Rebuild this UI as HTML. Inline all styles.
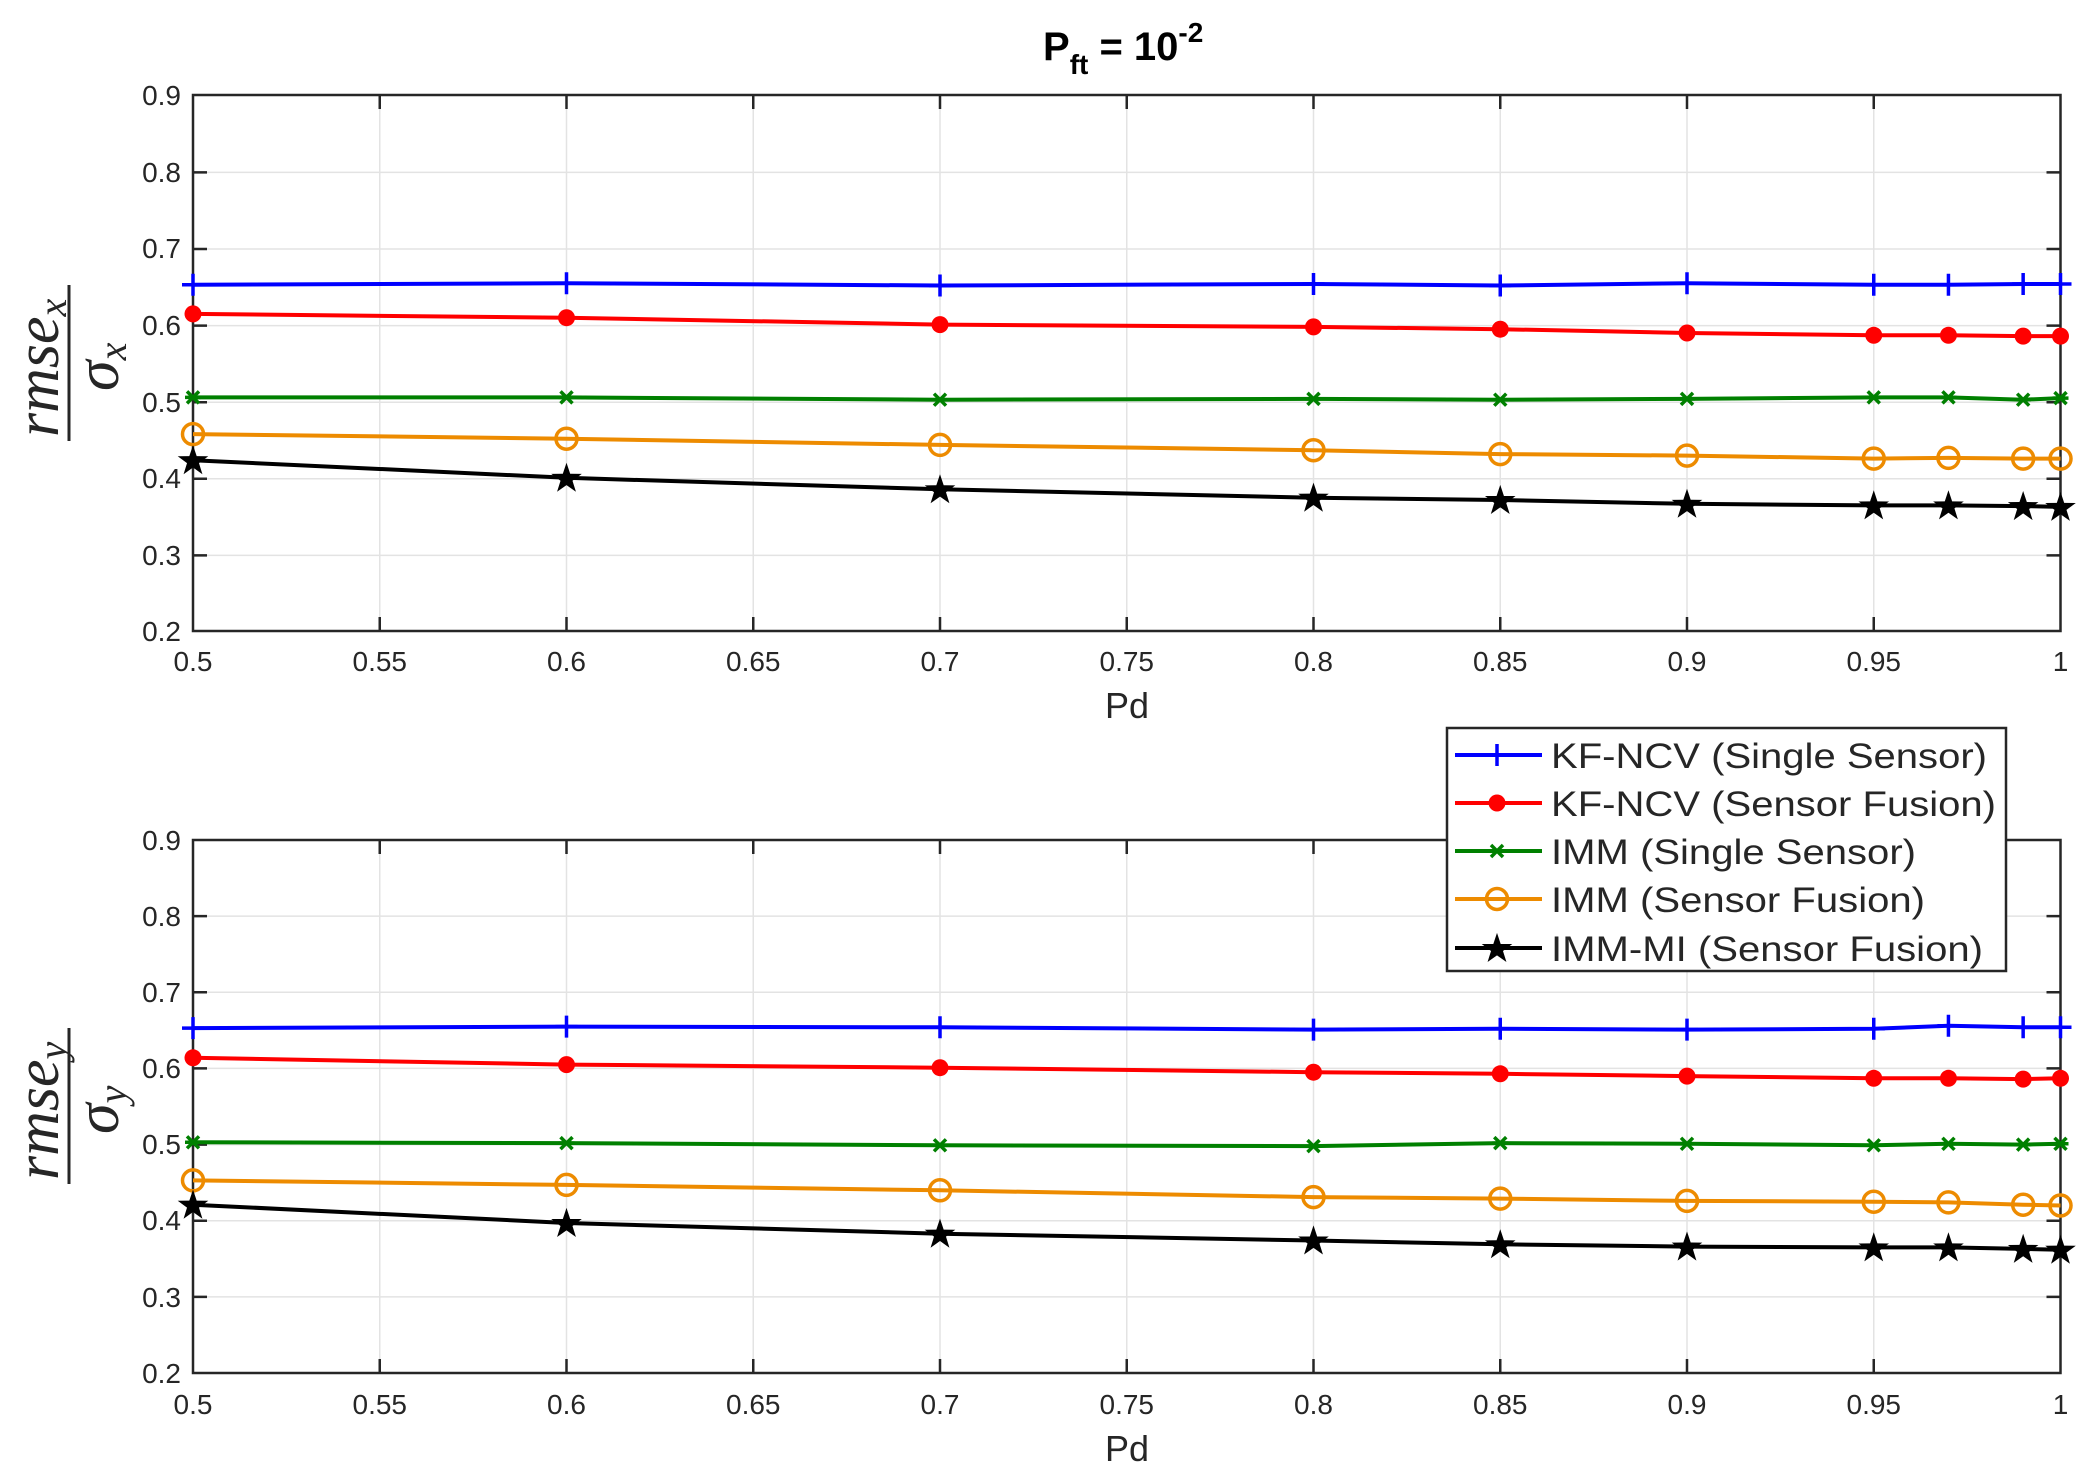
<!DOCTYPE html>
<html><head><meta charset="utf-8"><style>
html,body{margin:0;padding:0;background:#fff}
svg{display:block}
text{font-family:"Liberation Sans",sans-serif;fill:#262626}
</style></head><body>
<svg width="2089" height="1479" viewBox="0 0 2089 1479" xmlns="http://www.w3.org/2000/svg">
<defs>
<marker id="mp" markerUnits="userSpaceOnUse" markerWidth="30" markerHeight="30" refX="15" refY="15" overflow="visible"><path d="M15 4V26M4 15H26" stroke="#0000ff" stroke-width="3.5"/></marker>
<marker id="mr" markerUnits="userSpaceOnUse" markerWidth="30" markerHeight="30" refX="15" refY="15" overflow="visible"><circle cx="15" cy="15" r="8.5" fill="#ff0000"/></marker>
<marker id="mg" markerUnits="userSpaceOnUse" markerWidth="30" markerHeight="30" refX="15" refY="15" overflow="visible"><path d="M9 9L21 21M21 9L9 21M7 15H23" stroke="#008000" stroke-width="3.5"/></marker>
<marker id="mo" markerUnits="userSpaceOnUse" markerWidth="30" markerHeight="30" refX="15" refY="15" overflow="visible"><circle cx="15" cy="15" r="10.5" fill="none" stroke="#ed8b00" stroke-width="3.5"/></marker>
<marker id="mk" markerUnits="userSpaceOnUse" markerWidth="30" markerHeight="30" refX="15" refY="15" overflow="visible"><path transform="translate(15,16) scale(1.15)" d="M0,-14 3.2,-4.4 13.3,-4.3 5.2,1.7 8.2,11.3 0,5.5 -8.2,11.3 -5.2,1.7 -13.3,-4.3 -3.2,-4.4Z" fill="#000"/></marker>
</defs>

<text x="1043" y="60" font-size="40" font-weight="bold" style="fill:#000">P<tspan font-size="28" dy="14">ft</tspan><tspan dy="-14"> = 10</tspan><tspan font-size="28" dy="-18">-2</tspan></text>

<!-- TOP AXES -->
<g stroke="#e3e3e3" stroke-width="1.5">
<path d="M379.75 95V631M566.5 95V631M753.25 95V631M940 95V631M1126.75 95V631M1313.5 95V631M1500.25 95V631M1687 95V631M1873.75 95V631"/>
<path d="M193 172.4H2060.5M193 249H2060.5M193 325.6H2060.5M193 402.2H2060.5M193 478.8H2060.5M193 555.4H2060.5"/>
</g>
<g stroke="#262626" stroke-width="2.5" fill="none">
<rect x="193" y="95" width="1867.5" height="536"/>
<path d="M379.75 631v-14M566.5 631v-14M753.25 631v-14M940 631v-14M1126.75 631v-14M1313.5 631v-14M1500.25 631v-14M1687 631v-14M1873.75 631v-14M379.75 95v14M566.5 95v14M753.25 95v14M940 95v14M1126.75 95v14M1313.5 95v14M1500.25 95v14M1687 95v14M1873.75 95v14"/>
<path d="M193 172.4h14M193 249h14M193 325.6h14M193 402.2h14M193 478.8h14M193 555.4h14M2060.5 172.4h-14M2060.5 249h-14M2060.5 325.6h-14M2060.5 402.2h-14M2060.5 478.8h-14M2060.5 555.4h-14"/>
</g>
<g font-size="28" text-anchor="end">
<text x="181" y="105">0.9</text><text x="181" y="182">0.8</text><text x="181" y="258">0.7</text><text x="181" y="335">0.6</text><text x="181" y="412">0.5</text><text x="181" y="488">0.4</text><text x="181" y="565">0.3</text><text x="181" y="641">0.2</text>
</g>
<g font-size="28" text-anchor="middle">
<text x="193" y="671">0.5</text><text x="379.75" y="671">0.55</text><text x="566.5" y="671">0.6</text><text x="753.25" y="671">0.65</text><text x="940" y="671">0.7</text><text x="1126.75" y="671">0.75</text><text x="1313.5" y="671">0.8</text><text x="1500.25" y="671">0.85</text><text x="1687" y="671">0.9</text><text x="1873.75" y="671">0.95</text><text x="2060.5" y="671">1</text>
</g>
<text x="1127" y="718" font-size="36" text-anchor="middle">Pd</text>
<g transform="translate(69,363) rotate(-90)">
<text x="-74" y="-11" font-size="62" font-style="italic" style="font-family:'Liberation Serif',serif;fill:#262626">rmse<tspan font-size="40" dy="8">x</tspan></text>
<line x1="-78" y1="0" x2="78" y2="0" stroke="#262626" stroke-width="3"/>
<text x="-28" y="49" font-size="62" font-style="italic" style="font-family:'Liberation Serif',serif;fill:#262626">σ<tspan font-size="40" dy="8">x</tspan></text>
</g>

<g fill="none" stroke-width="4" stroke-linejoin="round">
<polyline stroke="#0000ff" marker-start="url(#mp)" marker-mid="url(#mp)" marker-end="url(#mp)" points="193,284.8 566.5,283.2 940,285.5 1313.5,284 1500.25,285.5 1687,283.2 1873.75,284.8 1948.45,284.8 2023.15,284 2060.5,284"/>
<polyline stroke="#ff0000" marker-start="url(#mr)" marker-mid="url(#mr)" marker-end="url(#mr)" points="193,313.9 566.5,317.7 940,324.6 1313.5,326.9 1500.25,329.2 1687,333 1873.75,335.3 1948.45,335.3 2023.15,336.1 2060.5,336.1"/>
<polyline stroke="#008000" marker-start="url(#mg)" marker-mid="url(#mg)" marker-end="url(#mg)" points="193,397.4 566.5,397.4 940,399.7 1313.5,398.9 1500.25,399.7 1687,398.9 1873.75,397.4 1948.45,397.4 2023.15,399.7 2060.5,398.1"/>
<polyline stroke="#ed8b00" marker-start="url(#mo)" marker-mid="url(#mo)" marker-end="url(#mo)" points="193,434.1 566.5,438.7 940,444.9 1313.5,450.2 1500.25,454.1 1687,455.6 1873.75,458.6 1948.45,457.9 2023.15,458.6 2060.5,458.6"/>
<polyline stroke="#000" marker-start="url(#mk)" marker-mid="url(#mk)" marker-end="url(#mk)" points="193,460.2 566.5,477.8 940,489.3 1313.5,497.7 1500.25,500 1687,503.8 1873.75,505.4 1948.45,505.4 2023.15,506.1 2060.5,506.9"/>
</g>

<!-- BOTTOM AXES -->
<g stroke="#e3e3e3" stroke-width="1.5">
<path d="M379.75 840V1373M566.5 840V1373M753.25 840V1373M940 840V1373M1126.75 840V1373M1313.5 840V1373M1500.25 840V1373M1687 840V1373M1873.75 840V1373"/>
<path d="M193 916.1H2060.5M193 992.3H2060.5M193 1068.4H2060.5M193 1144.6H2060.5M193 1220.7H2060.5M193 1296.9H2060.5"/>
</g>
<g stroke="#262626" stroke-width="2.5" fill="none">
<rect x="193" y="840" width="1867.5" height="533"/>
<path d="M379.75 1373v-14M566.5 1373v-14M753.25 1373v-14M940 1373v-14M1126.75 1373v-14M1313.5 1373v-14M1500.25 1373v-14M1687 1373v-14M1873.75 1373v-14M379.75 840v14M566.5 840v14M753.25 840v14M940 840v14M1126.75 840v14M1313.5 840v14M1500.25 840v14M1687 840v14M1873.75 840v14"/>
<path d="M193 916.1h14M193 992.3h14M193 1068.4h14M193 1144.6h14M193 1220.7h14M193 1296.9h14M2060.5 916.1h-14M2060.5 992.3h-14M2060.5 1068.4h-14M2060.5 1144.6h-14M2060.5 1220.7h-14M2060.5 1296.9h-14"/>
</g>
<g font-size="28" text-anchor="end">
<text x="181" y="850">0.9</text><text x="181" y="926">0.8</text><text x="181" y="1002">0.7</text><text x="181" y="1078">0.6</text><text x="181" y="1154">0.5</text><text x="181" y="1230">0.4</text><text x="181" y="1307">0.3</text><text x="181" y="1383">0.2</text>
</g>
<g font-size="28" text-anchor="middle">
<text x="193" y="1414">0.5</text><text x="379.75" y="1414">0.55</text><text x="566.5" y="1414">0.6</text><text x="753.25" y="1414">0.65</text><text x="940" y="1414">0.7</text><text x="1126.75" y="1414">0.75</text><text x="1313.5" y="1414">0.8</text><text x="1500.25" y="1414">0.85</text><text x="1687" y="1414">0.9</text><text x="1873.75" y="1414">0.95</text><text x="2060.5" y="1414">1</text>
</g>
<text x="1127" y="1461" font-size="36" text-anchor="middle">Pd</text>
<g transform="translate(69,1106) rotate(-90)">
<text x="-74" y="-11" font-size="62" font-style="italic" style="font-family:'Liberation Serif',serif;fill:#262626">rmse<tspan font-size="40" dy="8">y</tspan></text>
<line x1="-78" y1="0" x2="78" y2="0" stroke="#262626" stroke-width="3"/>
<text x="-28" y="49" font-size="62" font-style="italic" style="font-family:'Liberation Serif',serif;fill:#262626">σ<tspan font-size="40" dy="8">y</tspan></text>
</g>

<g fill="none" stroke-width="4" stroke-linejoin="round">
<polyline stroke="#0000ff" marker-start="url(#mp)" marker-mid="url(#mp)" marker-end="url(#mp)" points="193,1028.1 566.5,1026.6 940,1027.3 1313.5,1029.6 1500.25,1028.8 1687,1029.6 1873.75,1028.8 1948.45,1025.8 2023.15,1027.3 2060.5,1027.3"/>
<polyline stroke="#ff0000" marker-start="url(#mr)" marker-mid="url(#mr)" marker-end="url(#mr)" points="193,1057.8 566.5,1064.6 940,1067.7 1313.5,1072.2 1500.25,1073.8 1687,1076.1 1873.75,1078.3 1948.45,1078.3 2023.15,1079.1 2060.5,1078.3"/>
<polyline stroke="#008000" marker-start="url(#mg)" marker-mid="url(#mg)" marker-end="url(#mg)" points="193,1142.3 566.5,1143.1 940,1145.3 1313.5,1146.1 1500.25,1143.1 1687,1143.8 1873.75,1145.3 1948.45,1143.8 2023.15,1144.6 2060.5,1143.8"/>
<polyline stroke="#ed8b00" marker-start="url(#mo)" marker-mid="url(#mo)" marker-end="url(#mo)" points="193,1180.4 566.5,1184.9 940,1190.3 1313.5,1197.1 1500.25,1198.6 1687,1200.9 1873.75,1201.7 1948.45,1202.4 2023.15,1204.7 2060.5,1205.5"/>
<polyline stroke="#000" marker-start="url(#mk)" marker-mid="url(#mk)" marker-end="url(#mk)" points="193,1204.7 566.5,1223 940,1233.7 1313.5,1240.5 1500.25,1244.3 1687,1246.6 1873.75,1247.4 1948.45,1247.4 2023.15,1248.9 2060.5,1249.7"/>
</g>

<!-- LEGEND -->
<rect x="1447" y="728" width="559" height="243" fill="#fff" stroke="#262626" stroke-width="2.5"/>
<g stroke-width="4" fill="none">
<line x1="1455" y1="755" x2="1497" y2="755" stroke="#0000ff" marker-end="url(#mp)"/>
<line x1="1497" y1="755" x2="1542" y2="755" stroke="#0000ff"/>
<line x1="1455" y1="803" x2="1497" y2="803" stroke="#ff0000" marker-end="url(#mr)"/>
<line x1="1497" y1="803" x2="1542" y2="803" stroke="#ff0000"/>
<line x1="1455" y1="851" x2="1497" y2="851" stroke="#008000" marker-end="url(#mg)"/>
<line x1="1497" y1="851" x2="1542" y2="851" stroke="#008000"/>
<line x1="1455" y1="899" x2="1497" y2="899" stroke="#ed8b00" marker-end="url(#mo)"/>
<line x1="1497" y1="899" x2="1542" y2="899" stroke="#ed8b00"/>
<line x1="1455" y1="948" x2="1497" y2="948" stroke="#000" marker-end="url(#mk)"/>
<line x1="1497" y1="948" x2="1542" y2="948" stroke="#000"/>
</g>
<g font-size="35" style="fill:#000">
<text x="1551" y="768" textLength="436" lengthAdjust="spacingAndGlyphs">KF-NCV (Single Sensor)</text>
<text x="1551" y="816" textLength="445" lengthAdjust="spacingAndGlyphs">KF-NCV (Sensor Fusion)</text>
<text x="1551" y="864" textLength="365" lengthAdjust="spacingAndGlyphs">IMM (Single Sensor)</text>
<text x="1551" y="912" textLength="374" lengthAdjust="spacingAndGlyphs">IMM (Sensor Fusion)</text>
<text x="1551" y="961" textLength="432" lengthAdjust="spacingAndGlyphs">IMM-MI (Sensor Fusion)</text>
</g>
</svg>
</body></html>
